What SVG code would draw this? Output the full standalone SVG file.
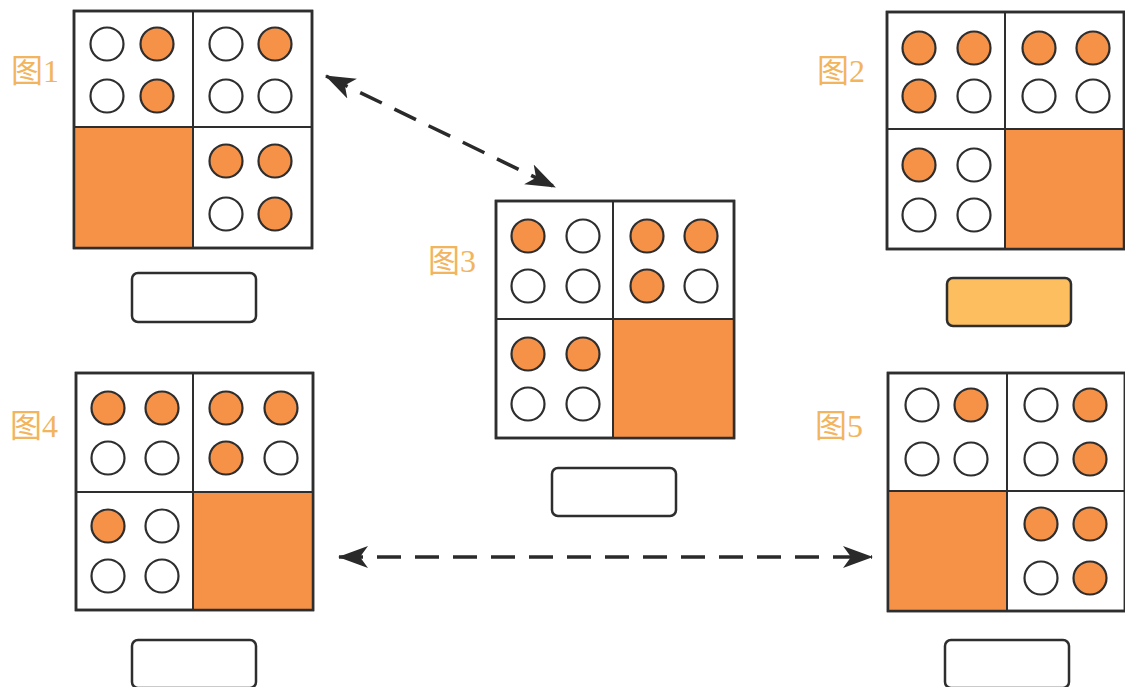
<svg xmlns="http://www.w3.org/2000/svg" width="1125" height="687" viewBox="0 0 1125 687">
<style>
.frame{fill:#fff;stroke:#2e2e2e;stroke-width:2.5}
.div{stroke:#2e2e2e;stroke-width:2;fill:none}
.sq{fill:#F69148;stroke:none}
.e{fill:#fff;stroke:#2e2e2e;stroke-width:2.2}
.f{fill:#F69148;stroke:#2e2e2e;stroke-width:2.2}
.lbl{fill:#F2B45C;font-family:"Liberation Serif","Noto Sans CJK SC",serif;font-size:32px}
.box{fill:#fff;stroke:#2e2e2e;stroke-width:2.5}
.conn{stroke:#2a2a2a;stroke-width:3.5;stroke-dasharray:24 14;fill:none}
</style>
<defs>
<marker id="ah" viewBox="0 0 30 24" refX="29" refY="12" markerWidth="30" markerHeight="24" markerUnits="userSpaceOnUse" orient="auto-start-reverse">
<path d="M0,1 L30,12 L0,23 L8,12 Z" fill="#2a2a2a"/>
</marker>
</defs>
<rect width="1125" height="687" fill="#fff"/>

<g id="fig1">
<rect class="frame" x="74" y="11" width="238" height="237"/>
<rect class="sq" x="74" y="127" width="119" height="121"/>
<path class="div" d="M193,11 V248 M74,127 H312"/>
<rect x="74" y="11" width="238" height="237" fill="none" stroke="#2e2e2e" stroke-width="2.5"/>
<circle class="e" cx="107" cy="44" r="16.5"/><circle class="f" cx="157" cy="44" r="16.5"/>
<circle class="e" cx="107" cy="96" r="16.5"/><circle class="f" cx="157" cy="96" r="16.5"/>
<circle class="e" cx="226" cy="44" r="16.5"/><circle class="f" cx="275" cy="44" r="16.5"/>
<circle class="e" cx="226" cy="96" r="16.5"/><circle class="e" cx="275" cy="96" r="16.5"/>
<circle class="f" cx="226" cy="161" r="16.5"/><circle class="f" cx="275" cy="161" r="16.5"/>
<circle class="e" cx="226" cy="214" r="16.5"/><circle class="f" cx="275" cy="214" r="16.5"/>
<text class="lbl" x="11" y="82">图1</text>
<rect class="box" x="132" y="273" width="124" height="49" rx="6"/>
</g>

<g id="fig2">
<rect class="frame" x="887" y="12" width="237" height="237"/>
<rect class="sq" x="1005" y="129" width="119" height="120"/>
<path class="div" d="M1005,12 V249 M887,129 H1124"/>
<rect x="887" y="12" width="237" height="237" fill="none" stroke="#2e2e2e" stroke-width="2.5"/>
<circle class="f" cx="919" cy="48" r="16.5"/><circle class="f" cx="974" cy="48" r="16.5"/>
<circle class="f" cx="919" cy="96" r="16.5"/><circle class="e" cx="974" cy="96" r="16.5"/>
<circle class="f" cx="1039" cy="48" r="16.5"/><circle class="f" cx="1093" cy="48" r="16.5"/>
<circle class="e" cx="1039" cy="96" r="16.5"/><circle class="e" cx="1093" cy="96" r="16.5"/>
<circle class="f" cx="919" cy="165" r="16.5"/><circle class="e" cx="974" cy="165" r="16.5"/>
<circle class="e" cx="919" cy="215" r="16.5"/><circle class="e" cx="974" cy="215" r="16.5"/>
<text class="lbl" x="817" y="82">图2</text>
<rect class="box" x="947" y="278" width="124" height="48" rx="6" style="fill:#FCBE5E"/>
</g>

<g id="fig3">
<rect class="frame" x="496" y="201" width="238" height="237"/>
<rect class="sq" x="613" y="319" width="121" height="119"/>
<path class="div" d="M613,201 V438 M496,319 H734"/>
<rect x="496" y="201" width="238" height="237" fill="none" stroke="#2e2e2e" stroke-width="2.5"/>
<circle class="f" cx="528" cy="236" r="16.5"/><circle class="e" cx="583" cy="236" r="16.5"/>
<circle class="e" cx="528" cy="286" r="16.5"/><circle class="e" cx="583" cy="286" r="16.5"/>
<circle class="f" cx="647" cy="236" r="16.5"/><circle class="f" cx="701" cy="236" r="16.5"/>
<circle class="f" cx="647" cy="286" r="16.5"/><circle class="e" cx="701" cy="286" r="16.5"/>
<circle class="f" cx="528" cy="354" r="16.5"/><circle class="f" cx="583" cy="354" r="16.5"/>
<circle class="e" cx="528" cy="404" r="16.5"/><circle class="e" cx="583" cy="404" r="16.5"/>
<text class="lbl" x="428" y="272">图3</text>
<rect class="box" x="552" y="468" width="124" height="48" rx="6"/>
</g>

<g id="fig4">
<rect class="frame" x="76" y="373" width="237" height="237"/>
<rect class="sq" x="193" y="492" width="120" height="118"/>
<path class="div" d="M193,373 V610 M76,492 H313"/>
<rect x="76" y="373" width="237" height="237" fill="none" stroke="#2e2e2e" stroke-width="2.5"/>
<circle class="f" cx="108" cy="408" r="16.5"/><circle class="f" cx="162" cy="408" r="16.5"/>
<circle class="e" cx="108" cy="458" r="16.5"/><circle class="e" cx="162" cy="458" r="16.5"/>
<circle class="f" cx="226" cy="408" r="16.5"/><circle class="f" cx="281" cy="408" r="16.5"/>
<circle class="f" cx="226" cy="458" r="16.5"/><circle class="e" cx="281" cy="458" r="16.5"/>
<circle class="f" cx="108" cy="526" r="16.5"/><circle class="e" cx="162" cy="526" r="16.5"/>
<circle class="e" cx="108" cy="576" r="16.5"/><circle class="e" cx="162" cy="576" r="16.5"/>
<text class="lbl" x="10" y="437">图4</text>
<rect class="box" x="132" y="640" width="124" height="48" rx="6"/>
</g>

<g id="fig5">
<rect class="frame" x="888" y="373" width="237" height="238"/>
<rect class="sq" x="888" y="491" width="119" height="120"/>
<path class="div" d="M1007,373 V611 M888,491 H1125"/>
<rect x="888" y="373" width="237" height="238" fill="none" stroke="#2e2e2e" stroke-width="2.5"/>
<circle class="e" cx="922" cy="405" r="16.5"/><circle class="f" cx="971" cy="405" r="16.5"/>
<circle class="e" cx="922" cy="459" r="16.5"/><circle class="e" cx="971" cy="459" r="16.5"/>
<circle class="e" cx="1041" cy="405" r="16.5"/><circle class="f" cx="1090" cy="405" r="16.5"/>
<circle class="e" cx="1041" cy="459" r="16.5"/><circle class="f" cx="1090" cy="459" r="16.5"/>
<circle class="f" cx="1041" cy="524" r="16.5"/><circle class="f" cx="1090" cy="524" r="16.5"/>
<circle class="e" cx="1041" cy="578" r="16.5"/><circle class="f" cx="1090" cy="578" r="16.5"/>
<text class="lbl" x="815" y="437">图5</text>
<rect class="box" x="945" y="640" width="124" height="48" rx="6"/>
</g>

<g id="connectors">
<line class="conn" x1="326" y1="76" x2="555" y2="187" marker-start="url(#ah)" marker-end="url(#ah)"/>
<line class="conn" x1="339" y1="557" x2="872" y2="557" marker-start="url(#ah)" marker-end="url(#ah)"/>
</g>
</svg>
